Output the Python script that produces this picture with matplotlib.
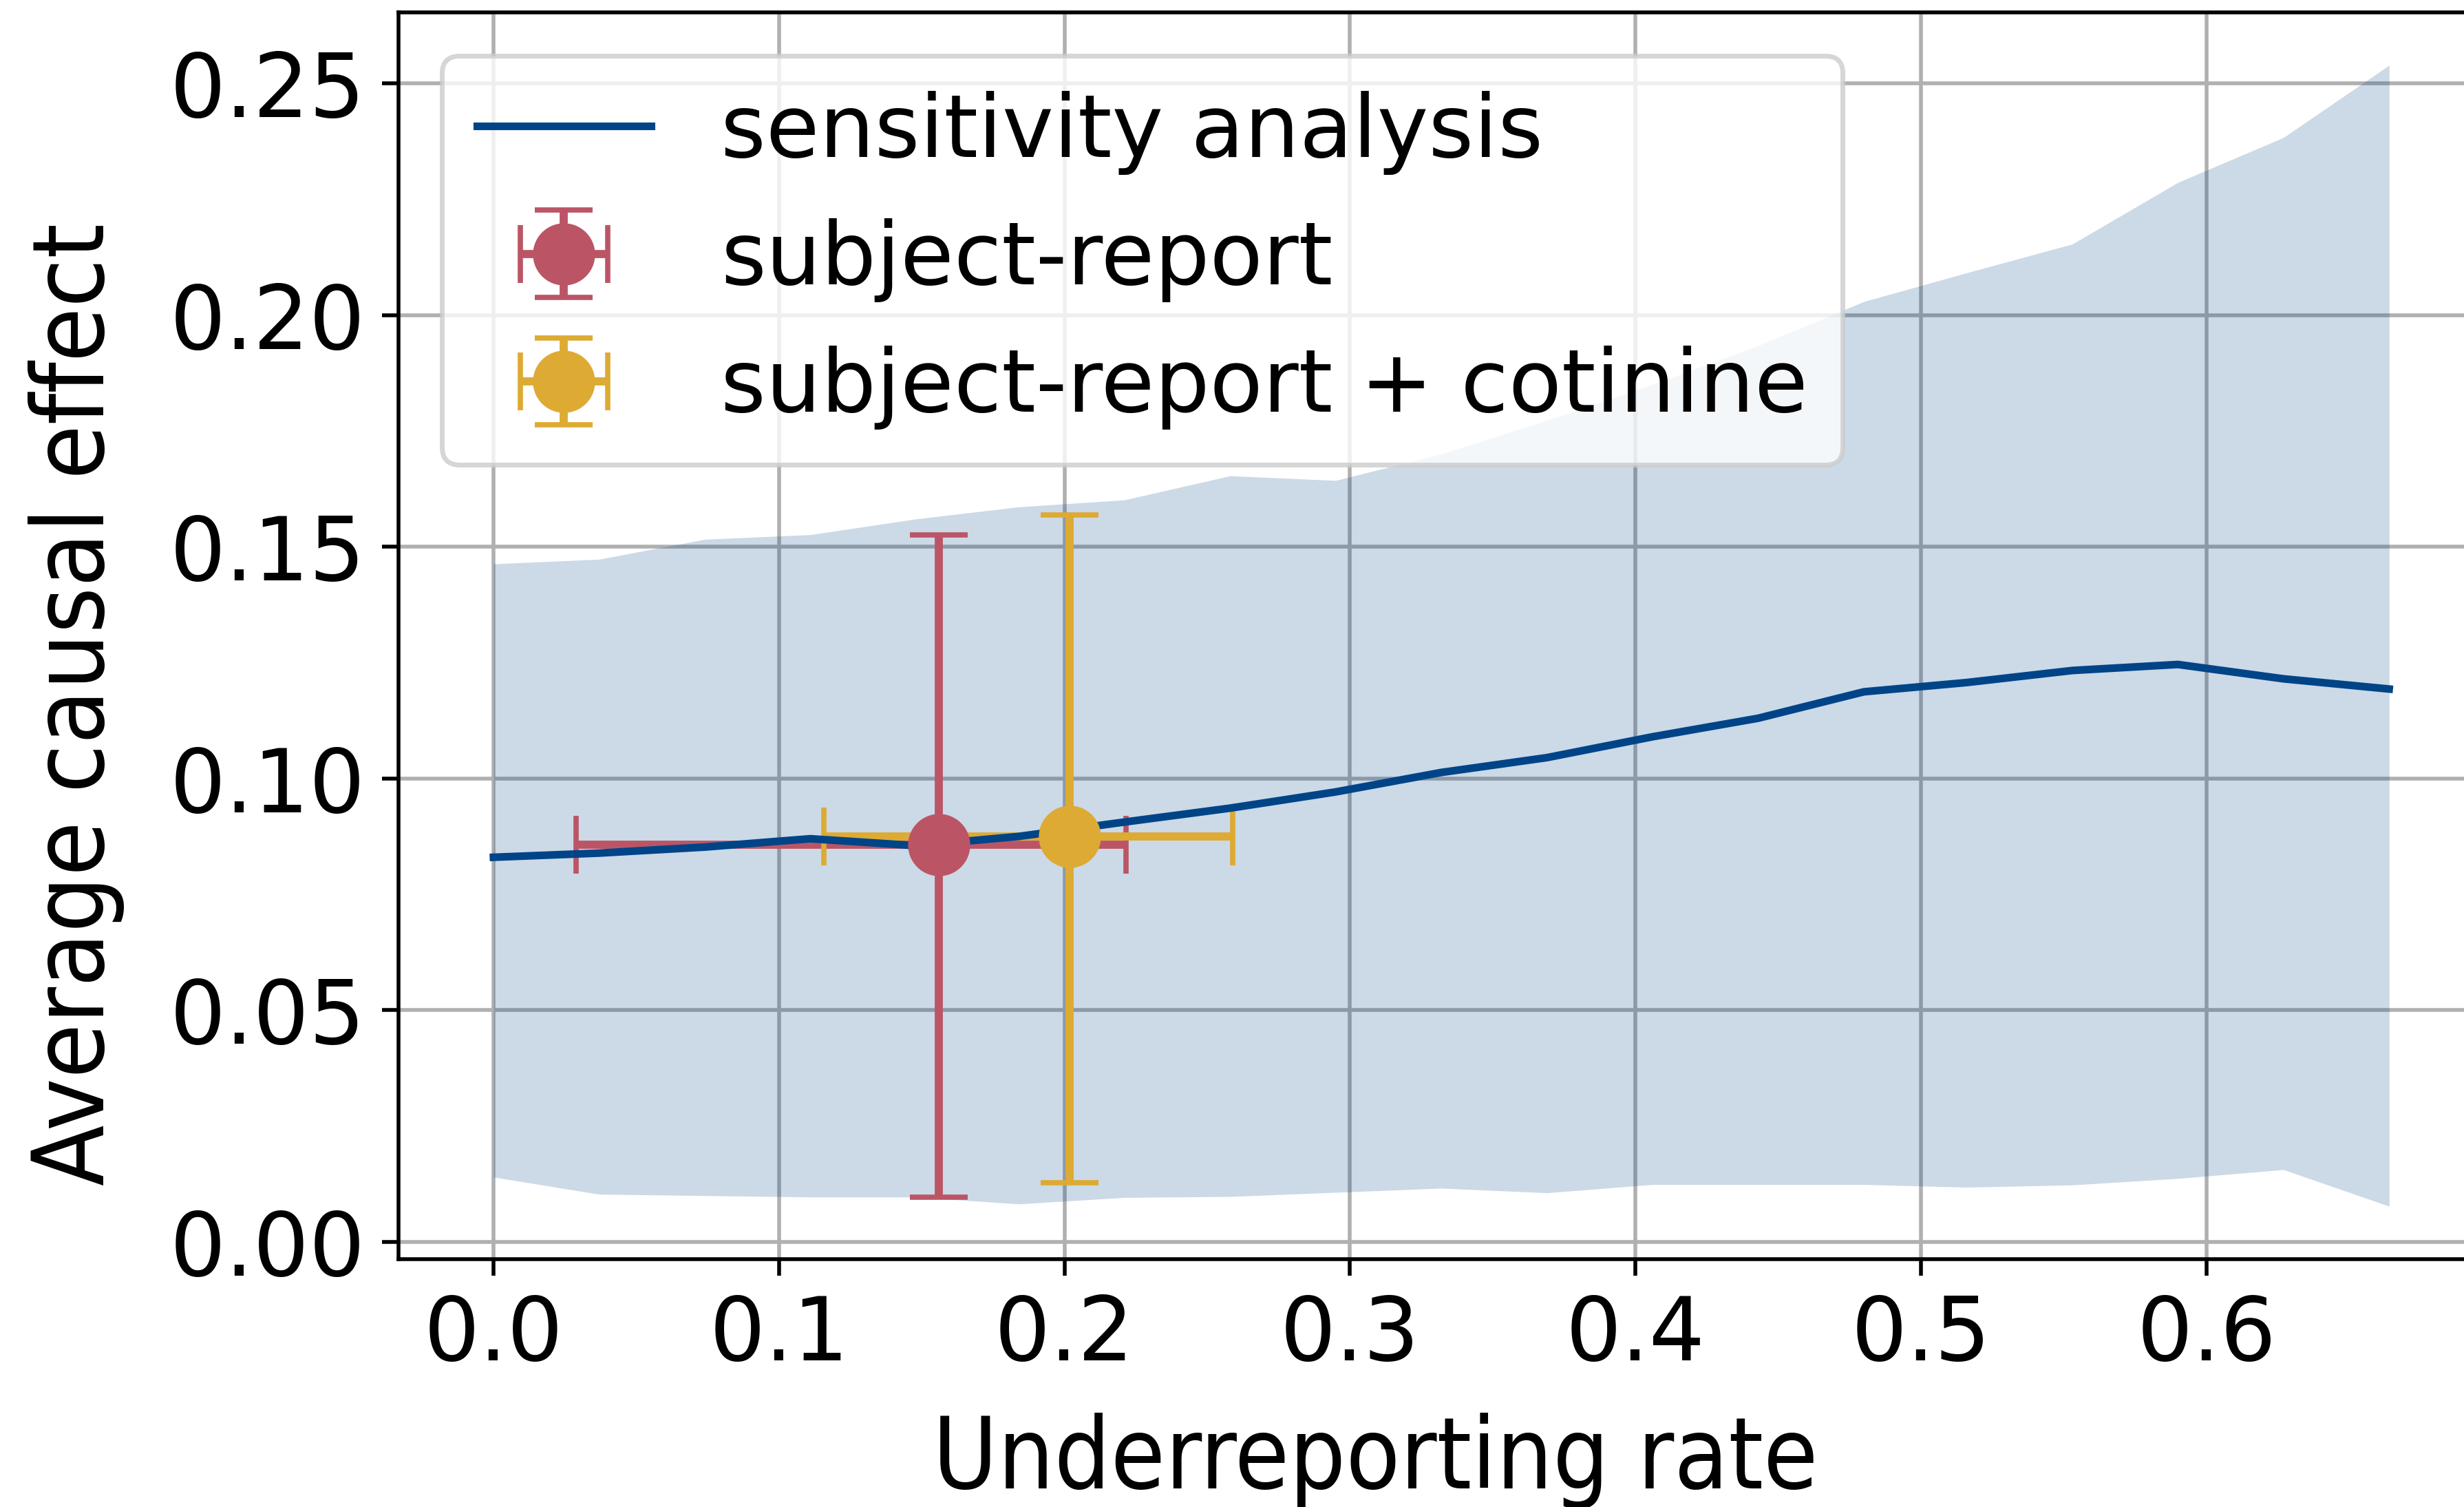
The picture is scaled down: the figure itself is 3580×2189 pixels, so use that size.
import numpy as np
import matplotlib.pyplot as plt

# sensitivity curve
rate = [0.0, 0.037, 0.074, 0.111, 0.148, 0.184, 0.221, 0.258, 0.295, 0.332,
        0.369, 0.406, 0.443, 0.480, 0.516, 0.553, 0.590, 0.627, 0.664]
ace = [0.0830, 0.0839, 0.0852, 0.0870, 0.0855, 0.0875, 0.0906, 0.0936, 0.0971, 0.1013,
       0.1045, 0.1090, 0.1130, 0.1187, 0.1207, 0.1233, 0.1246, 0.1215, 0.1193]
ace_low = [0.0140, 0.0103, 0.0100, 0.0097, 0.0097, 0.0082, 0.0096, 0.0098, 0.0107, 0.0116,
           0.0106, 0.0124, 0.0124, 0.0124, 0.0118, 0.0123, 0.0137, 0.0156, 0.0077]
ace_high = [0.1463, 0.1473, 0.1516, 0.1526, 0.1560, 0.1586, 0.1601, 0.1653, 0.1643, 0.1700,
            0.1773, 0.1850, 0.1934, 0.2029, 0.2091, 0.2153, 0.2286, 0.2383, 0.2539]

# point estimates with intervals
sr_x, sr_y = 0.156, 0.0857
sr_xint = (0.0289, 0.2215)
sr_yint = (0.0097, 0.1525)

src_x, src_y = 0.2019, 0.0875
src_xint = (0.1157, 0.2589)
src_yint = (0.0128, 0.1569)

blue = "#004488"
red = "#BB5566"
yellow = "#DDAA33"

fig = plt.figure(figsize=(7.16, 4.378), dpi=500)
ax = fig.add_axes([0.1618, 0.1645, 0.8463, 0.8273])

ax.fill_between(rate, ace_low, ace_high, color=blue, alpha=0.2, linewidth=0, zorder=1)
ax.plot(rate, ace, color=blue, lw=1.6, label="sensitivity analysis", zorder=2)

ax.errorbar(sr_x, sr_y,
            xerr=[[sr_x - sr_xint[0]], [sr_xint[1] - sr_x]],
            yerr=[[sr_y - sr_yint[0]], [sr_yint[1] - sr_y]],
            fmt="o", color=red, ms=12, capsize=6, elinewidth=1.7, capthick=1.1,
            label="subject-report", zorder=1.9)
ax.errorbar(src_x, src_y,
            xerr=[[src_x - src_xint[0]], [src_xint[1] - src_x]],
            yerr=[[src_y - src_yint[0]], [src_yint[1] - src_y]],
            fmt="o", color=yellow, ms=12, capsize=6, elinewidth=1.7, capthick=1.1,
            label="subject-report + cotinine", zorder=1.95)

ax.set_xlim(-0.0332, 0.6972)
ax.set_ylim(-0.0037, 0.2653)
ax.set_xticks([0.0, 0.1, 0.2, 0.3, 0.4, 0.5, 0.6])
ax.set_yticks([0.0, 0.05, 0.10, 0.15, 0.20, 0.25])
ax.tick_params(labelsize=18.4)
ax.grid(True)
ax.set_axisbelow(True)

ax.set_xlabel("Underreporting rate", fontsize=20.7, fontstretch="condensed")
ax.set_ylabel("Average causal effect", fontsize=20.7, fontstretch="condensed")
ax.xaxis.set_label_coords(0.4685, -0.1234)
ax.yaxis.set_label_coords(-0.1315, 0.445)

ax.legend(loc="upper left", fontsize=18.2)

plt.savefig("out.png", dpi=500)
